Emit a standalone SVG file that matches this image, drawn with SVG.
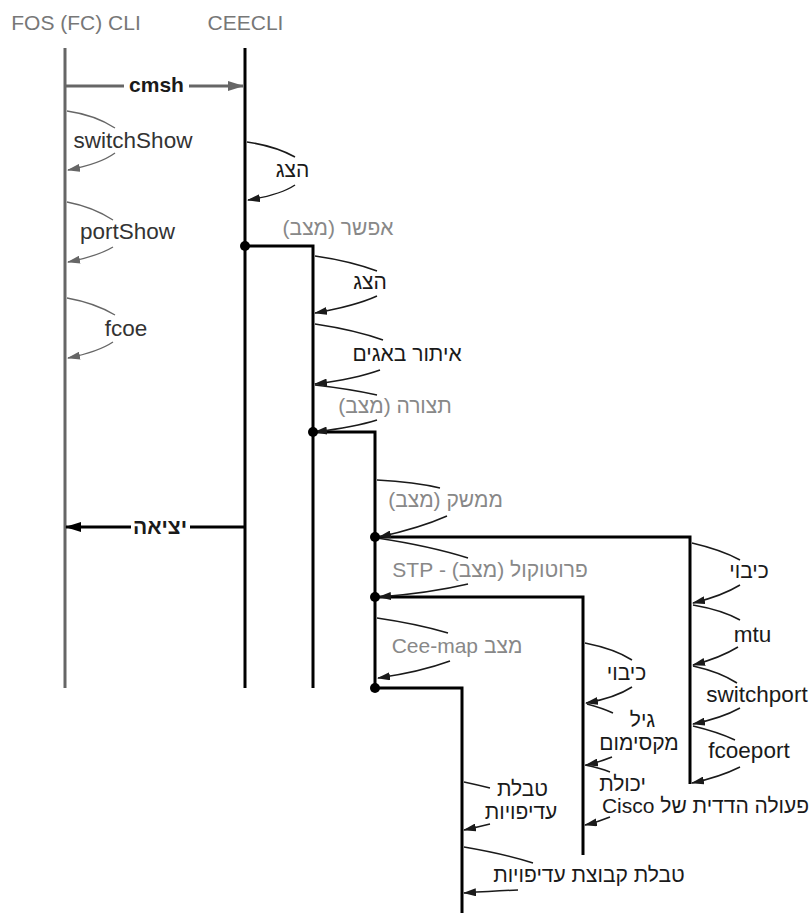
<svg xmlns="http://www.w3.org/2000/svg" width="811" height="913" viewBox="0 0 811 913">
<defs>
<style>
text{font-family:"Liberation Sans","DejaVu Sans",Arial,sans-serif;font-size:21px;text-anchor:middle}
.lat{font-size:22.5px}
.title{fill:#777}
.cmdg{fill:#333}
.cmd{fill:#1a1a1a}
.state{fill:#888}
.rtl{direction:rtl}
.bold{font-weight:bold}
.spine{stroke:#000;stroke-width:3;fill:none}
.gspine{stroke:#666;stroke-width:3;fill:none}
.arc{stroke:#1a1a1a;stroke-width:1.5;fill:none}
.garc{stroke:#666;stroke-width:1.3;fill:none}
.dot{fill:#000}
</style>
<marker id="ah" viewBox="0 0 13 8" refX="12" refY="4" markerWidth="13" markerHeight="8" markerUnits="userSpaceOnUse" orient="auto"><path d="M0,0 L13,4 L0,8 Z" fill="#1a1a1a"/></marker>
<marker id="ahg" viewBox="0 0 13 8" refX="12" refY="4" markerWidth="13" markerHeight="8" markerUnits="userSpaceOnUse" orient="auto"><path d="M0,0 L13,4 L0,8 Z" fill="#666"/></marker>
<marker id="big" viewBox="0 0 16 10" refX="15" refY="5" markerWidth="16" markerHeight="10" markerUnits="userSpaceOnUse" orient="auto"><path d="M0,0 L16,5 L0,10 Z" fill="#000"/></marker>
<marker id="bigg" viewBox="0 0 16 10" refX="15" refY="5" markerWidth="16" markerHeight="10" markerUnits="userSpaceOnUse" orient="auto"><path d="M0,0 L16,5 L0,10 Z" fill="#666"/></marker>
</defs>
<rect width="811" height="913" fill="#fff"/>

<g id="titles">
<text class="title" x="76" y="30">FOS (FC) CLI</text>
<text class="title" x="245.5" y="30">CEECLI</text>
</g>

<g id="connectors">
<!-- spines -->
<line class="gspine" x1="65" y1="48" x2="65" y2="688"/>
<line class="spine" x1="245" y1="48" x2="245" y2="688"/>
<polyline class="spine" points="245,246 313,246 313,688"/>
<polyline class="spine" points="313,432 375,432 375,688"/>
<polyline class="spine" points="375,537 690,537 690,784"/>
<polyline class="spine" points="375,597 583,597 583,855"/>
<polyline class="spine" points="375,688 462,688 462,913"/>
<!-- cmsh -->
<line class="gspine" x1="65" y1="86" x2="124" y2="86"/>
<line class="gspine" x1="189" y1="86" x2="243" y2="86" marker-end="url(#bigg)"/>
<!-- exit -->
<line class="spine" x1="245" y1="527" x2="190" y2="527"/>
<line class="spine" x1="131" y1="527" x2="66" y2="527" marker-end="url(#big)"/>
<!-- FOS arcs -->
<path class="garc" d="M67,111 Q95,115 115,128"/>
<path class="garc" d="M115,153 Q100,164 68,170" marker-end="url(#ahg)"/>
<path class="garc" d="M67,202 Q93,207 113,220"/>
<path class="garc" d="M113,247 Q98,256 68,262" marker-end="url(#ahg)"/>
<path class="garc" d="M67,298 Q95,303 115,315"/>
<path class="garc" d="M113,342 Q98,352 68,358" marker-end="url(#ahg)"/>
<!-- CEECLI arcs -->
<path class="arc" d="M247,142 Q275,146 295,157"/>
<path class="arc" d="M295,185 Q280,195 248,200" marker-end="url(#ah)"/>
<!-- 313 arcs -->
<path class="arc" d="M315,256 Q350,261 377,271"/>
<path class="arc" d="M377,296 Q355,306 315,313" marker-end="url(#ah)"/>
<path class="arc" d="M315,324 Q355,330 383,340"/>
<path class="arc" d="M380,370 Q355,379 315,384" marker-end="url(#ah)"/>
<path class="arc" d="M315,385 Q350,389 377,395"/>
<path class="arc" d="M377,420 Q355,427 315,432" marker-end="url(#ah)"/>
<!-- 375 arcs -->
<path class="arc" d="M377,480 Q415,482 440,488"/>
<path class="arc" d="M447,516 Q420,528 379,537" marker-end="url(#ah)"/>
<path class="arc" d="M377,538 Q430,546 468,558"/>
<path class="arc" d="M468,584 Q430,593 379,597" marker-end="url(#ah)"/>
<path class="arc" d="M377,618 Q418,624 448,633"/>
<path class="arc" d="M450,661 Q420,672 378,678" marker-end="url(#ah)"/>
<!-- 690 arcs -->
<path class="arc" d="M692,543 Q722,550 740,560"/>
<path class="arc" d="M740,585 Q722,596 693,603" marker-end="url(#ah)"/>
<path class="arc" d="M693,605 Q722,610 740,620"/>
<path class="arc" d="M738,647 Q720,658 693,665" marker-end="url(#ah)"/>
<path class="arc" d="M693,666 Q720,672 737,683"/>
<path class="arc" d="M740,708 Q722,718 693,724" marker-end="url(#ah)"/>
<path class="arc" d="M693,726 Q718,732 735,740"/>
<path class="arc" d="M740,767 Q720,777 692,783" marker-end="url(#ah)"/>
<!-- 583 arcs -->
<path class="arc" d="M585,643 Q615,649 632,660"/>
<path class="arc" d="M632,687 Q615,698 586,703" marker-end="url(#ah)"/>
<path class="arc" d="M587,704 Q602,708 613,713"/>
<path class="arc" d="M612,757 Q600,762 586,765" marker-end="url(#ah)"/>
<path class="arc" d="M585,765 Q600,768 610,772"/>
<path class="arc" d="M610,817 Q598,822 585,825" marker-end="url(#ah)"/>
<!-- 462 arcs -->
<path class="arc" d="M464,782 Q478,785 490,788"/>
<path class="arc" d="M490,824 Q478,827 464,830" marker-end="url(#ah)"/>
<path class="arc" d="M464,847 Q505,854 533,863"/>
<path class="arc" d="M518,890 Q495,891 464,893" marker-end="url(#ah)"/>
</g>

<g id="dots">
<circle class="dot" cx="245" cy="246" r="5"/>
<circle class="dot" cx="313" cy="432" r="5"/>
<circle class="dot" cx="375" cy="537" r="5"/>
<circle class="dot" cx="375" cy="597" r="5"/>
<circle class="dot" cx="375" cy="688" r="5"/>
</g>

<g id="n-cmsh"><text class="cmd bold" x="156.5" y="92">cmsh</text></g>
<g id="n-exit"><text class="cmd bold rtl" x="160" y="534">יציאה</text></g>
<g id="n-switchShow"><text class="cmdg lat" x="133" y="148">switchShow</text></g>
<g id="n-portShow"><text class="cmdg lat" x="127.5" y="239">portShow</text></g>
<g id="n-fcoe"><text class="cmdg lat" x="126" y="336">fcoe</text></g>
<g id="n-show1"><text class="cmd rtl" x="292.5" y="177">הצג</text></g>
<g id="n-enable"><text class="state rtl" x="338" y="235">אפשר (מצב)</text></g>
<g id="n-show2"><text class="cmd rtl" x="370" y="289">הצג</text></g>
<g id="n-debug"><text class="cmd rtl" x="407" y="361">איתור באגים</text></g>
<g id="n-config"><text class="state rtl" x="395" y="413">תצורה (מצב)</text></g>
<g id="n-interface"><text class="state rtl" x="445.5" y="507">ממשק (מצב)</text></g>
<g id="n-stp"><text class="state rtl" x="490" y="577">פרוטוקול (מצב) - STP</text></g>
<g id="n-ceemap"><text class="state rtl" x="457" y="653">מצב Cee-map</text></g>
<g id="n-shutdown1"><text class="cmd rtl" x="749" y="578">כיבוי</text></g>
<g id="n-mtu"><text class="cmd lat" x="752.5" y="642">mtu</text></g>
<g id="n-switchport"><text class="cmd lat" x="757" y="702">switchport</text></g>
<g id="n-fcoeport"><text class="cmd lat" x="749" y="758">fcoeport</text></g>
<g id="n-shutdown2"><text class="cmd rtl" x="626.5" y="680">כיבוי</text></g>
<g id="n-maxage"><text class="cmd rtl" x="642.5" y="727">גיל</text><text class="cmd rtl" x="639" y="750">מקסימום</text></g>
<g id="n-cisco"><text class="cmd rtl" x="622.5" y="791">יכולת</text><text class="cmd rtl" x="705.5" y="813">פעולה הדדית של Cisco</text></g>
<g id="n-prio"><text class="cmd rtl" x="522.5" y="796">טבלת</text><text class="cmd rtl" x="521" y="819">עדיפויות</text></g>
<g id="n-priogroup"><text class="cmd rtl" x="589" y="882">טבלת קבוצת עדיפויות</text></g>
</svg>
